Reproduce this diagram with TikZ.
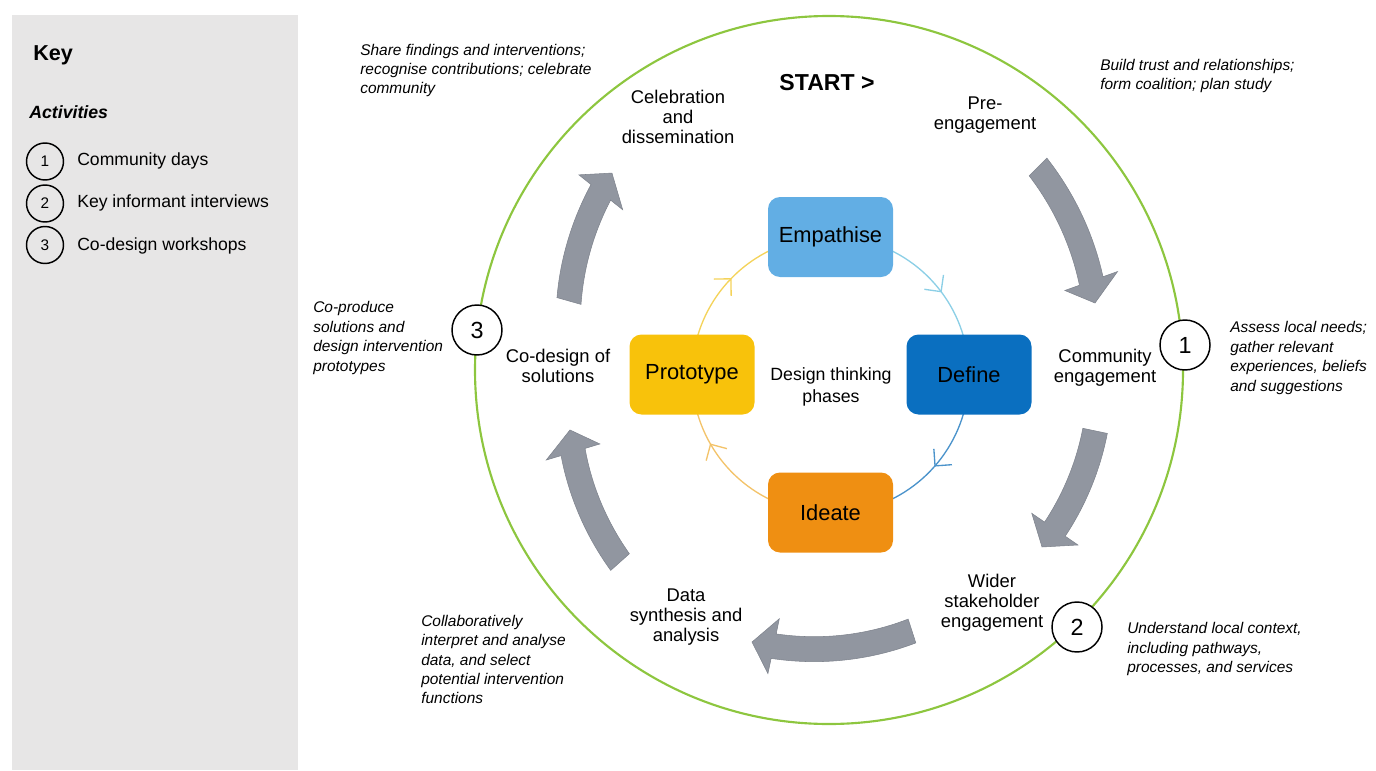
\documentclass[tikz,border=0pt]{standalone}
\usepackage{fontspec}
\setmainfont{Liberation Sans}
\usetikzlibrary{arrows.meta}
\definecolor{keygray}{HTML}{E7E6E6}
\definecolor{ringgreen}{HTML}{8DC63F}
\definecolor{arrgray}{HTML}{9196A0}
\definecolor{arredge}{HTML}{7E838D}
\definecolor{empc}{HTML}{62AEE4}
\definecolor{defc}{HTML}{0A6FC0}
\definecolor{ideac}{HTML}{EF8F12}
\definecolor{protc}{HTML}{F8C20B}
\definecolor{arcED}{HTML}{8CCFE6}
\definecolor{arcDI}{HTML}{4B93CB}
\definecolor{arcIP}{HTML}{F3C36A}
\definecolor{arcPE}{HTML}{F4D35A}

% curved block arrow around (830,375): tail radius, tail angle, tip radius, tip angle
\newcommand{\blockarrow}[4]{%
  \pgfmathsetmacro{\ba}{#4-22/#3*180/pi}%
  \pgfmathsetmacro{\rb}{#1+(#3-#1)*(\ba-#2)/(#4-#2)}%
  \fill[arrgray, draw=arredge, line width=0.4pt]
    plot[domain=0:1, samples=40] ({830+(#1+(\rb-#1)*\x+12.5)*cos(#2+(\ba-#2)*\x)}, {375+(#1+(\rb-#1)*\x+12.5)*sin(#2+(\ba-#2)*\x)})
    -- ({830+(\rb+28)*cos(\ba)}, {375+(\rb+28)*sin(\ba)})
    -- ({830+#3*cos(#4)}, {375+#3*sin(#4)})
    -- ({830+(\rb-28)*cos(\ba)}, {375+(\rb-28)*sin(\ba)})
    -- plot[domain=0:1, samples=40] ({830+(\rb+(#1-\rb)*\x-12.5)*cos(\ba+(#2-\ba)*\x)}, {375+(\rb+(#1-\rb)*\x-12.5)*sin(\ba+(#2-\ba)*\x)})
    -- cycle;
}
% open chevron on the inner ring, tip at angle #1, colour #2
\newcommand{\chev}[2]{%
  \draw[#2, line width=1pt, line join=miter]
    ({830.5+150.5*cos(#1)+12*sin(#1)}, {375+150.5*sin(#1)-12*cos(#1)})
    -- ({830.5+138.5*cos(#1)}, {375+138.5*sin(#1)})
    -- ({830.5+126.5*cos(#1)+12*sin(#1)}, {375+126.5*sin(#1)-12*cos(#1)});
}

\begin{document}
\begin{tikzpicture}[x=0.75pt, y=-0.75pt,
  lab/.style={font=\fontsize{13.8}{15}\selectfont, align=center, inner sep=0pt},
  ann/.style={font=\fontsize{11.6}{14.6}\selectfont\itshape, align=left, anchor=west, inner sep=0pt},
  keytxt/.style={font=\fontsize{13.2}{15}\selectfont, anchor=west, inner sep=0pt},
  keyc/.style={circle, draw=black, line width=1.1pt, minimum size=27.75pt, inner sep=0pt, font=\fontsize{11.5}{13}\selectfont},
  actc/.style={circle, draw=black, fill=white, line width=1.1pt, minimum size=37.5pt, inner sep=0pt, font=\fontsize{17.5}{19}\selectfont},
  phase/.style={rounded corners=9pt, minimum width=93.75pt, minimum height=60pt, inner sep=0pt, font=\fontsize{16.4}{18}\selectfont}
]
\useasboundingbox (0,0) rectangle (1376,770);

% Key panel
\fill[keygray] (12,15) rectangle (298,770);
\node[anchor=west, inner sep=0pt, font=\fontsize{16.2}{18}\selectfont\bfseries] (keyhead) at (33,55) {Key};
\node[anchor=west, inner sep=0pt, font=\fontsize{13.3}{15}\selectfont\bfseries\itshape] (acthead) at (29,112) {Activities};
\node[keyc] (k1) at (45,161.5) {1};
\node[keyc] (k2) at (45,203.5) {2};
\node[keyc] (k3) at (45,245) {3};
\node[keytxt] (k1t) at (77,161) {Community days};
\node[keytxt] (k2t) at (77,203) {Key informant interviews};
\node[keytxt] (k3t) at (77,246) {Co-design workshops};

% big ring
\draw[ringgreen, line width=1.6pt] (829,370) circle[radius=265.5pt];

% gray process arrows
\blockarrow{294.2}{315.0}{274.6}{344.8}
\blockarrow{270.9}{11.9}{273.0}{39.05}
\blockarrow{268.8}{72.24}{278.2}{106.28}
\blockarrow{281.2}{138.3}{265.8}{168.06}
\blockarrow{271.3}{195.83}{297.2}{222.8}

% inner ring
\draw[arcED, line width=1pt] plot[domain=270:360, samples=40] ({830.5+138.5*cos(\x)},{375+138.5*sin(\x)});
\draw[arcDI, line width=1pt] plot[domain=0:90, samples=40] ({830.5+138.5*cos(\x)},{375+138.5*sin(\x)});
\draw[arcIP, line width=1pt] plot[domain=90:180, samples=40] ({830.5+138.5*cos(\x)},{375+138.5*sin(\x)});
\draw[arcPE, line width=1pt] plot[domain=180:270, samples=40] ({830.5+138.5*cos(\x)},{375+138.5*sin(\x)});
\chev{323}{arcED}
\chev{41}{arcDI}
\chev{150}{arcIP}
\chev{224}{arcPE}

% phase boxes
\node[phase, fill=empc] (emp) at (830.5,237) {Empathise};
\node[phase, fill=defc] (def) at (969,374.5) {Define};
\node[phase, fill=ideac] (ide) at (830.5,512.5) {Ideate};
\node[phase, fill=protc] (pro) at (692,374.5) {Prototype};
\node[lab, font=\fontsize{13.3}{16}\selectfont] (dtp) at (831,387) {Design thinking\\phases};

% stage labels
\node[lab, font=\fontsize{17.3}{20}\selectfont\bfseries] (start) at (827,83) {START >};
\node[lab] (celeb) at (678,117) {Celebration\\and\\dissemination};
\node[lab] (pre) at (985,115) {Pre-\\engagement};
\node[lab] (comm) at (1105,368) {Community\\engagement};
\node[lab] (wider) at (992,603) {Wider\\stakeholder\\engagement};
\node[lab] (data) at (686,617) {Data\\synthesis and\\analysis};
\node[lab] (codes) at (558,366) {Co-design of\\solutions};

% activity markers
\node[actc] (a1) at (1185,345) {1};
\node[actc] (a2) at (1077,627) {2};
\node[actc] (a3) at (477,330) {3};

% annotations
\node[ann] (n1) at (360,70.5) {Share findings and interventions;\\recognise contributions; celebrate\\community};
\node[ann] (n2) at (1100,76) {Build trust and relationships;\\form coalition; plan study};
\node[ann] (n3) at (313,338) {Co-produce\\solutions and\\design intervention\\prototypes};
\node[ann] (n4) at (1230,358) {Assess local needs;\\gather relevant\\experiences, beliefs\\and suggestions};
\node[ann] (n5) at (421,659.5) {Collaboratively\\interpret and analyse\\data, and select\\potential intervention\\functions};
\node[ann] (n6) at (1127,649) {Understand local context,\\including pathways,\\processes, and services};
\end{tikzpicture}
\end{document}
